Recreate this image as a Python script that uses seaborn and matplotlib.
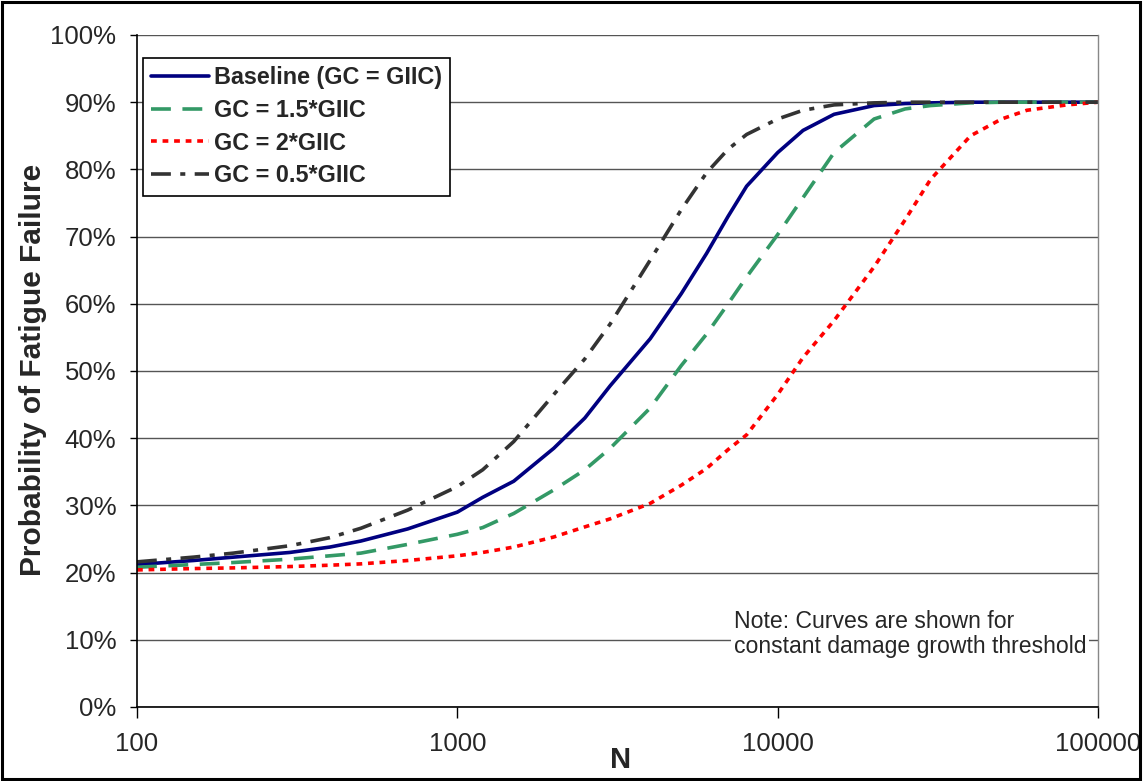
import numpy as np
import pandas as pd
import matplotlib
matplotlib.use("Agg")
import matplotlib.pyplot as plt
import seaborn as sns
from matplotlib.patches import Rectangle
from matplotlib.ticker import FixedLocator, FuncFormatter, NullLocator

# ---- data ----
N = [100, 150, 200, 300, 400, 500, 700, 1000, 1200, 1500, 2000, 2500, 3000,
     4000, 5000, 6000, 7000, 8000, 10000, 12000, 15000, 20000, 25000, 30000,
     40000, 50000, 60000, 80000, 100000]

baseline = [21.2, 21.8, 22.3, 23.0, 23.8, 24.7, 26.5, 29.0, 31.2, 33.6, 38.5, 43.0, 47.8,
            54.8, 61.5, 67.5, 73.0, 77.5, 82.5, 85.8, 88.2, 89.5, 89.8, 89.9,
            90.0, 90.0, 90.0, 90.0, 90.0]
gc_1_5 = [20.8, 21.2, 21.5, 22.0, 22.5, 22.9, 24.2, 25.7, 26.7, 28.8, 32.3, 35.3, 38.5,
          44.5, 50.8, 55.5, 60.0, 64.0, 70.3, 75.8, 82.5, 87.5, 89.0, 89.5,
          89.9, 90.0, 90.0, 90.0, 90.0]
gc_2 = [20.4, 20.6, 20.7, 20.9, 21.1, 21.3, 21.8, 22.5, 23.0, 23.8, 25.3, 26.8, 28.0,
        30.3, 33.0, 35.5, 38.3, 40.5, 46.5, 52.0, 57.5, 65.5, 72.5, 78.5,
        85.0, 87.5, 88.8, 89.6, 90.0]
gc_0_5 = [21.6, 22.3, 22.9, 24.0, 25.2, 26.6, 29.3, 32.8, 35.3, 39.5, 46.5, 51.8, 57.0,
          66.5, 74.0, 79.5, 83.0, 85.2, 87.5, 88.8, 89.6, 89.9, 90.0, 90.0,
          90.0, 90.0, 90.0, 90.0, 90.0]

series_names = ["Baseline (GC = GIIC)", "GC = 1.5*GIIC", "GC = 2*GIIC", "GC = 0.5*GIIC"]
series_values = [baseline, gc_1_5, gc_2, gc_0_5]

y_ticks = [0, 10, 20, 30, 40, 50, 60, 70, 80, 90, 100]
x_ticks = [100, 1000, 10000, 100000]
note_text = "Note: Curves are shown for\nconstant damage growth threshold"

# ---- build long-form table ----
df = pd.concat([pd.DataFrame({"N": N, "P": v, "series": name})
                for name, v in zip(series_names, series_values)], ignore_index=True)

sns.set_style("white")
plt.rcParams['font.family'] = ['Liberation Sans', 'DejaVu Sans']

fig = plt.figure(figsize=(11.47, 7.81), dpi=100)
ax = fig.add_axes([137/1147, 1 - 707/781, (1098-137)/1147, (707-35)/781])

palette = {series_names[0]: "#000080", series_names[1]: "#339966",
           series_names[2]: "#FF0000", series_names[3]: "#333333"}
dashes = {series_names[0]: "", series_names[1]: (5.5, 3.2),
          series_names[2]: (1.6, 1.6), series_names[3]: (5.5, 2.6, 1.4, 2.6)}

for y in y_ticks:
    ax.axhline(y, color="#555555" if y != 0 else "black", lw=1.0, zorder=0)

sns.lineplot(data=df, x="N", y="P", hue="series", style="series",
             hue_order=series_names, style_order=series_names,
             palette=palette, dashes=dashes, linewidth=2.6, ax=ax,
             estimator=None, sort=False)

ax.set_xscale("log")
ax.set_xlim(100, 100000)
ax.set_ylim(0, 100)
ax.xaxis.set_major_locator(FixedLocator(x_ticks))
ax.xaxis.set_minor_locator(NullLocator())
ax.xaxis.set_major_formatter(FuncFormatter(lambda v, p: f"{int(round(v))}"))
ax.yaxis.set_major_locator(FixedLocator(y_ticks))
ax.yaxis.set_major_formatter(FuncFormatter(lambda v, p: f"{int(round(v))}%"))

for s in ["left", "bottom"]:
    ax.spines[s].set_color("black")
    ax.spines[s].set_linewidth(1.2)
ax.spines["top"].set_visible(False)
ax.spines["right"].set_color("#888888")
ax.spines["right"].set_linewidth(1.0)

ax.tick_params(axis="y", which="major", direction="out", length=5, width=1,
               color="black", labelsize=18.5, pad=10, left=True)
ax.tick_params(axis="x", which="major", direction="out", length=8, width=1,
               color="black", labelsize=18.5, pad=10, bottom=True)

ax.set_xlabel("N", fontsize=21, fontweight="bold", va="center")
ax.xaxis.set_label_coords(0.503, (707 - 760) / 672)
ax.set_ylabel("Probability of Fatigue Failure", fontsize=21.5, fontweight="bold",
              va="center")
ax.yaxis.set_label_coords((33 - 137) / 961, (707 - 370) / 672)

handles, labels = ax.get_legend_handles_labels()
leg = ax.legend(handles, labels, loc="upper left", bbox_to_anchor=(0.006, 0.966),
                borderaxespad=0, frameon=True, fancybox=False, framealpha=1,
                edgecolor="black", prop={"size": 16.8, "weight": "bold"},
                handlelength=2.5, handletextpad=0.2, labelspacing=0.42,
                borderpad=0.35)
leg.get_frame().set_linewidth(1.2)

ax.text(0.621, (707 - 634) / 672, note_text, transform=ax.transAxes, fontsize=16.6,
        ha="left", va="center", linespacing=1.15,
        bbox=dict(facecolor="white", edgecolor="none", pad=2))

fig.patches.append(Rectangle((0.002, 0.003), 0.992, 0.994, transform=fig.transFigure,
                             fill=False, edgecolor="black", linewidth=2.2))

fig.savefig("out.png", dpi=100)
